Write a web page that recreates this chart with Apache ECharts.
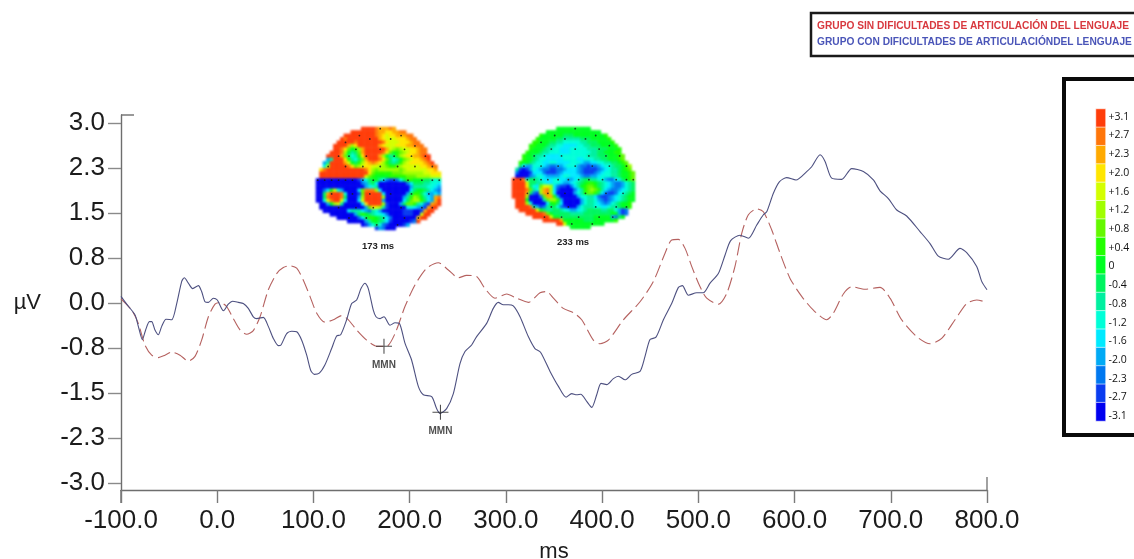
<!DOCTYPE html>
<html><head><meta charset="utf-8">
<style>html,body{margin:0;padding:0;background:#fff}#c{width:1134px;height:559px;filter:blur(0.35px)}</style>
<script src="https://cdn.jsdelivr.net/npm/echarts@6/dist/echarts.min.js"></script>
</head><body><div id="c"></div>
<script>
const nameWithout = 'GRUPO SIN DIFICULTADES DE ARTICULACIÓN DEL LENGUAJE';
const nameWith = 'GRUPO CON DIFICULTADES DE ARTICULACIÓNDEL LENGUAJE';
const yTicks = [-3,-2.25,-1.5,-0.75,0,0.75,1.5,2.25,3];
const xTicks = [-100,0,100,200,300,400,500,600,700,800];
const withDifficulty = [[-100,0.11],[-94.1,-0.02],[-85.4,-0.2],[-82,-0.39],[-77.8,-0.61],[-74.4,-0.45],[-70.5,-0.31],[-68.1,-0.31],[-64.7,-0.45],[-61.2,-0.53],[-57.7,-0.39],[-53.2,-0.27],[-47.3,-0.28],[-42.1,-0.01],[-36.9,0.36],[-34.2,0.42],[-30,0.33],[-25.5,0.24],[-19.6,0.29],[-16.2,0.19],[-12.7,0.02],[-9.2,0.01],[-4,0.08],[0.1,0.05],[6.4,-0.13],[11.5,-0.02],[16,0.03],[22,0.01],[27.1,-0.01],[32.3,-0.09],[37.5,-0.23],[41,-0.26],[47.9,-0.24],[53.1,-0.39],[58.3,-0.59],[63.5,-0.71],[66.3,-0.7],[72.2,-0.51],[77.4,-0.47],[82.6,-0.48],[87.8,-0.62],[93,-0.87],[97.1,-1.12],[100.9,-1.19],[106.1,-1.17],[112,-1.03],[118.9,-0.76],[124.1,-0.55],[128.3,-0.53],[134.5,-0.28],[139.7,-0.01],[144.9,0.05],[149.4,0.24],[153.6,0.33],[157,0.24],[162.2,-0.12],[165,-0.23],[169.2,-0.26],[173.3,-0.23],[179.6,-0.37],[184.8,-0.33],[189.3,-0.34],[195.1,-0.67],[202,-0.95],[209,-1.39],[214.2,-1.53],[222.9,-1.56],[228,-1.76],[231.5,-1.84],[238.4,-1.76],[245.4,-1.51],[252.3,-1.01],[257.5,-0.81],[264.4,-0.7],[269.6,-0.56],[280,-0.34],[286.9,-0.09],[292.1,0.01],[297.3,-0.03],[302.5,-0.03],[307.7,-0.05],[314.7,-0.23],[323.3,-0.56],[330.2,-0.76],[336,-0.82],[345.9,-1.14],[354.6,-1.39],[362.5,-1.57],[368.4,-1.51],[373.6,-1.53],[377.8,-1.52],[384,-1.64],[389.2,-1.74],[394.4,-1.53],[398.9,-1.34],[404.8,-1.36],[411.7,-1.26],[416.9,-1.22],[423.8,-1.28],[430.8,-1.19],[439.4,-1.14],[444.6,-0.89],[449.8,-0.61],[456,-0.57],[463.7,-0.28],[472.3,-0.01],[479.3,0.26],[483.4,0.29],[489.7,0.13],[498.3,0.17],[505.2,0.17],[512.2,0.33],[520.8,0.49],[527.8,0.8],[533.6,1.04],[543.3,1.13],[552,1.08],[560.7,1.3],[567.6,1.47],[571.1,1.52],[578,1.83],[584.2,2.02],[591.8,2.09],[601.5,2.05],[612.6,2.19],[617.8,2.27],[626.5,2.47],[631.7,2.36],[638.6,2.08],[649,2.06],[659.4,2.24],[671.5,2.19],[681.9,2.05],[688.8,1.87],[697.5,1.74],[706.2,1.55],[716.5,1.45],[730.4,1.19],[740.8,0.99],[749.4,0.78],[759.8,0.73],[772,0.91],[778.9,0.84],[789.3,0.61],[794.5,0.36],[800,0.22]];
const withoutDifficulty = [[-100,0.07],[-88.9,-0.12],[-82,-0.34],[-75.1,-0.7],[-68.1,-0.87],[-61.2,-0.91],[-54.3,-0.87],[-47.3,-0.82],[-38.7,-0.87],[-30,-0.97],[-23.1,-0.89],[-16.2,-0.62],[-9.2,-0.23],[-2.3,-0.02],[2.9,0.01],[9.8,-0.06],[16.7,-0.26],[23.7,-0.45],[30.6,-0.52],[37.5,-0.46],[44.5,-0.23],[53.1,0.22],[61.8,0.49],[68.7,0.59],[75.6,0.62],[82.6,0.58],[89.5,0.38],[96.4,0.11],[103.4,-0.17],[112,-0.32],[120.7,-0.28],[129.3,-0.21],[136.3,-0.28],[144.9,-0.45],[155.3,-0.62],[165.7,-0.72],[176.1,-0.72],[184.8,-0.51],[195.1,-0.06],[205.5,0.3],[217.7,0.58],[229.8,0.67],[240.2,0.55],[250.6,0.42],[259.2,0.46],[269.6,0.44],[278.3,0.24],[288.7,0.08],[300.8,0.15],[311.2,0.08],[323.3,0.01],[335.5,0.17],[342.4,0.19],[349.4,0.08],[359.7,-0.09],[370.1,-0.16],[378.8,-0.28],[390.9,-0.62],[397.9,-0.68],[406.5,-0.62],[422.1,-0.28],[439.4,0.02],[453.3,0.36],[465.4,0.83],[472.3,1.05],[479.3,1.06],[486.2,0.91],[493.1,0.61],[501.8,0.27],[508.7,0.08],[520.8,-0.02],[529.5,0.16],[538.1,0.61],[545.1,1.16],[552,1.47],[560.7,1.57],[567.6,1.52],[576.2,1.22],[584.9,0.83],[595.3,0.41],[607.4,0.11],[619.6,-0.12],[633.4,-0.28],[640.3,-0.17],[650.7,0.15],[659.4,0.27],[673.2,0.23],[688.8,0.26],[699.2,0.08],[711.3,-0.28],[726.9,-0.56],[740.8,-0.68],[752.9,-0.59],[766.8,-0.28],[778.9,-0.01],[789.3,0.05],[800,0.01]];
const mmnPeaks = [[173.3,-0.72],[232,-1.82]];
const scaleLabels = ['+3.1','+2.7','+2.3','+2.0','+1.6','+1.2','+0.8','+0.4','0','-0.4','-0.8','-1.2','-1.6','-2.0','-2.3','-2.7','-3.1'];
const scaleColors = ['#ff3d0a','#ff760a','#ffaa00','#ffe600','#d4ff00','#a0ff00','#64f800','#22ff00','#00ff22','#00f560','#00f0a0','#00ffd8','#00eaff','#00aaf5','#0078f0','#0a3cf0','#0000f0'];
// topographic maps: one letter per cell, a = +3.1 ... q = -3.1, space = outside the head
const map173 = [
"             aaaabcccbc",
"          aaaaaaabccddccbb",
"        aaaaaaaaabcdeddcccbb",
"       abaaaaaaaaacdeeedddcbb",
"      aaaaabaaaaaaabdeeedddcbb",
"     aaaacfdaaaaaacdeeedddccbbb",
"     aabdgihfcaaaaaacefgfeeddcbb",
"    aaabfikjgcaaaaabdgihgfeddcbb",
"   aaaacgjlkhdaaaacfikjhfeddccbaa",
"   nkaaadhkljgcaaabdgjlkigfeddcba",
"  nkaaaaceijhfdcbcdfhjkjhfeddddcba",
"  lfaaaaabdgfeddeeffghhgfeeeeeddcbb",
" dbaaaaaaaaaaabdfgffffffgfeeeeeeddc",
" aaaaaaaaaaaaaadghhhhhgggffffffeeddd",
" aaaaaaaaaaaaaeghiiiihhhhhgggffffeee",
"qqqqqqqqqqqqpnljiikmoppoljhhiiijjklk",
"qqqqqqqqqqqqqonkjmqqqqqqqqomjjjkkllm",
"qqqqqqqqqqqqqqnmlkqqqqqqqqqnkkkkllmn",
"qqomhelnqqqqmgbbbfmqqqqqqqqmjiijkmno",
"qqjcaaablqqqpgaaaaamqqqqqqnjhhjlnnmn",
"qqjbaaabjqqqnfaaaaafqqqqqnkhfgikmncb",
"qqlebaaemqqqmeaaaaanqqqqqmjgffhjmnca",
" qqnifekqqqqqmdaaaafpqqqnjgghklopcba",
" qqqqqqqqqqqqqngdefkpqqqqqmlmnopcaa",
"  qqqqqqqmkkkmnoklnqqqqqqpppqqpcaa",
"    qqqqqqqnjhijkllmoqqqqpppqqeaa",
"      qqqqqqomjhhijkmoqqqqqqqdaa",
"         qqqqqnkiijkmpqqqqqpoa",
"             qpnljlopqqqqpn",
"                 pnoqqq"];
const map233 = [
"             iiiiiiiiii",
"          iiiiiiiiiiiiiiii",
"        hiiiiiijjjiiiiiiiiih",
"       hiiiiijjkkkkkjjjiiiiih",
"      hhiiijjkklllllkkjjjiiiih",
"     hhiiijkkllmmmmllkkjjjiiiih",
"     hiiijkkllmmmlllllkkkjjjiiih",
"    hiiijkklllmmmllllllkkjjiiihh",
"   hiijkklmmmmllllllllkkkjjjiiihg",
"   hiijkllmmmmmllllmmlllkkjjiiihg",
"  hiijkllmmllmmmmlllmnnmmllkkjjihg",
"  jmnnlllmnoonnmlllnoopoonmllkjjihf",
" kpqpnlmnooppoonmmmnopppponmlkkjihg",
" oqqqpmmmoppponmmmmnoppponmllkkjiihg",
" qqqqonllmnnnnmllmmmnoonnmlllkkjiihg",
"aaabljjklmmmllmmnnmlkjjkkllnoomljihg",
"aaaaejjkklmmllmnnmlkjihhijklmnoonlkj",
"aaaadjlmgeefmoppqomkihgghjklmnoonlkj",
"aaaabgklfcbfmpqqqqomkhgfghkmnoonmlkj",
"aaaacjopfcbfmqqqqqnlkhgghjmoppomlkji",
"aaaafqqqogcchnqqqqqnllkkmopponmlkjii",
" aaaiqqqqkgffhnqqqqqnlkklnoponmlkjii",
" aaaflqqqqmihjmqqqqqnlkklmnonlkjiih",
" aaaabknpokjjlopqqqnlkkkllmmlkkjiih",
"  aaaaaeijkkjjklmnnmlkjjjjkkjjlnpo",
"    aaaaabgijjjjjkkkkjjjjjjjjiinpo",
"      aaaaaeiijjjjjjjjjjiiiiinoji",
"         aaaaaciiiiiijjjiiiiiih",
"             aaeiiiiiiiiiii",
"                 iiiiii"];
const electrodes = [[18,0],[12,2],[24,2],[8,4],[15,3],[21,3],[28,5],[11,6],[18,6],[25,6],[6,8],[9,8],[14,8],[22,8],[27,8],[31,8],[3,11],[8,11],[13,11],[18,11],[23,11],[28,11],[33,11],[0,15],[2,15],[4,15],[6,15],[8,15],[10,15],[13,15],[16,15],[19,15],[22,15],[26,15],[30,15],[33,15],[35,15],[4,19],[10,19],[15,19],[21,19],[27,19],[32,19],[6,23],[11,23],[16,23],[24,23],[30,23],[33,23],[9,26],[14,26],[19,26],[25,26],[29,26],[17,28],[23,28]];

const seq = n => Array.from({length:n},(_,i)=>String(i));
const cells = rows => { const out=[]; rows.forEach((r,y)=>{ [...r].forEach((ch,x)=>{ if(ch!==' ') out.push([x,y,ch.charCodeAt(0)-97]); }); }); return out; };
const hidden = {show:false};
const blank = {axisLine:hidden,axisTick:hidden,axisLabel:hidden,splitLine:hidden};
const sans = '"Liberation Sans",Arial,sans-serif';

const grids = [
  {left:121,top:115,width:866,height:375},
  {left:316,top:127,width:125,height:103},
  {left:512,top:127,width:123,height:102},
  {left:1096,top:109,width:9.5,height:312},
  {left:1096,top:107.4,width:9.5,height:318}
].map(g=>({...g,outerBoundsMode:'none'}));
const xAxes = [
  {type:'value',gridIndex:0,min:-100,max:800,interval:100,
   axisLine:{onZero:false,lineStyle:{color:'#6e6e6e',width:1.4}},
   axisTick:{length:13,lineStyle:{color:'#7a7a7a',width:1.4},customValues:xTicks},
   axisLabel:{color:'#1c1c1c',fontFamily:sans,fontSize:26,margin:18,
     showMinLabel:true,showMaxLabel:true,formatter:v=>v.toFixed(1),customValues:xTicks},
   splitLine:hidden,name:'ms',nameLocation:'middle',nameGap:51,
   nameTextStyle:{color:'#1c1c1c',fontFamily:sans,fontSize:22}},
  {type:'category',gridIndex:1,data:seq(36),...blank},
  {type:'category',gridIndex:2,data:seq(36),...blank},
  {type:'category',gridIndex:3,data:['c'],...blank},
  {type:'category',gridIndex:4,data:['c'],...blank}
];
const yAxes = [
  {type:'value',gridIndex:0,min:-3.117,max:3.133,
   axisLine:{show:true,onZero:false,lineStyle:{color:'#6e6e6e',width:1.4}},
   axisTick:{show:true,length:13,lineStyle:{color:'#8a8a8a',width:1.4},customValues:yTicks},
   axisLabel:{color:'#1c1c1c',fontFamily:sans,fontSize:26,margin:16,padding:[3,0,0,0],
     formatter:v=>v.toFixed(1),customValues:yTicks},
   splitLine:hidden,name:'µV',nameLocation:'middle',nameRotate:0,nameGap:80,
   nameTextStyle:{color:'#1c1c1c',fontFamily:sans,fontSize:22,padding:[6,0,0,0]}},
  {type:'category',gridIndex:1,inverse:true,data:seq(30),...blank},
  {type:'category',gridIndex:2,inverse:true,data:seq(30),...blank},
  {type:'category',gridIndex:3,inverse:true,data:scaleLabels,...blank},
  {type:'category',gridIndex:4,inverse:true,data:scaleLabels,position:'right',
   axisLine:hidden,axisTick:hidden,splitLine:hidden,
   axisLabel:{show:true,margin:3,color:'#111',fontFamily:'"Open Sans",sans-serif',fontSize:10.5,interval:0}}
];

const mapSeries = (i,rows)=>[
  {type:'heatmap',xAxisIndex:i,yAxisIndex:i,data:cells(rows),zlevel:1,itemStyle:{borderWidth:0},emphasis:{disabled:true},progressive:0,silent:true},
  {type:'scatter',xAxisIndex:i,yAxisIndex:i,data:electrodes,zlevel:2,symbolSize:1.8,itemStyle:{color:'#1a1a1a',opacity:.8},silent:true,z:5}
];
const option = {
  animation:false,backgroundColor:'#fff',
  title:[
    {text:'173 ms',left:378,top:241,textAlign:'center',textStyle:{fontFamily:sans,fontSize:9.5,fontWeight:'bold',color:'#222'}},
    {text:'233 ms',left:573,top:237,textAlign:'center',textStyle:{fontFamily:sans,fontSize:9.5,fontWeight:'bold',color:'#222'}}
  ].map(t=>({...t,padding:0})),
  legend:{left:817,top:21,orient:'vertical',itemWidth:0,itemHeight:8,itemGap:6,padding:0,selectedMode:false,icon:'none',
    textStyle:{fontFamily:sans,fontSize:10.2,fontWeight:'bold',padding:[0,0,0,-5]},
    data:[{name:nameWithout,textStyle:{color:'#d8383e'}},{name:nameWith,textStyle:{color:'#4a55b8'}}]},
  grid:grids,xAxis:xAxes,yAxis:yAxes,
  visualMap:{show:false,type:'continuous',min:0,max:16,seriesIndex:[2,4,6],dimension:2,inRange:{color:scaleColors}},
  series:[
    {name:nameWithout,type:'line',data:withoutDifficulty,showSymbol:false,smooth:0.25,clip:false,
     lineStyle:{color:'#b5615f',width:1.1,type:[13,5]},itemStyle:{color:'#d8383e'},silent:true,z:3},
    {name:nameWith,type:'line',data:withDifficulty,showSymbol:false,smooth:0.25,clip:false,
     lineStyle:{color:'#4d5080',width:1.1},itemStyle:{color:'#4a55b8'},silent:true,z:4},
    ...mapSeries(1,map173),
    ...mapSeries(2,map233),
    {type:'heatmap',xAxisIndex:3,yAxisIndex:3,data:scaleLabels.map((_,i)=>[0,i,i]),itemStyle:{borderColor:'#fff',borderWidth:.6},silent:true},
    {type:'scatter',data:mmnPeaks,symbol:'path://M0 14H30V16H0ZM14 0H16V30H14Z',symbolSize:[16,15],
     itemStyle:{color:'#222'},silent:true,z:6,
     label:{show:true,position:'bottom',distance:7,formatter:'MMN',fontFamily:sans,fontSize:10,fontWeight:'bold',color:'#222'}}
  ],
  graphic:[
    {type:'rect',shape:{x:811,y:13,width:330,height:43},style:{fill:'none',stroke:'#1a1a1a',lineWidth:2.5},silent:true},
    {type:'rect',shape:{x:1064,y:79,width:90,height:356},style:{fill:'none',stroke:'#0a0a0a',lineWidth:4},silent:true},
    {type:'line',shape:{x1:121,y1:115,x2:134,y2:115},style:{stroke:'#6e6e6e',lineWidth:1.4},silent:true},
    {type:'line',shape:{x1:121,y1:490,x2:121,y2:503},style:{stroke:'#6e6e6e',lineWidth:1.4},silent:true},
    {type:'line',shape:{x1:987,y1:477,x2:987,y2:490},style:{stroke:'#7a7a7a',lineWidth:1.4},silent:true}
  ]
};
const chart = echarts.init(document.getElementById('c'),null,{renderer:'canvas'});
chart.setOption(option);
const layers = chart.getDom().querySelectorAll('canvas');
if (layers[1]) layers[1].style.filter = 'blur(1.3px)';
</script></body></html>
